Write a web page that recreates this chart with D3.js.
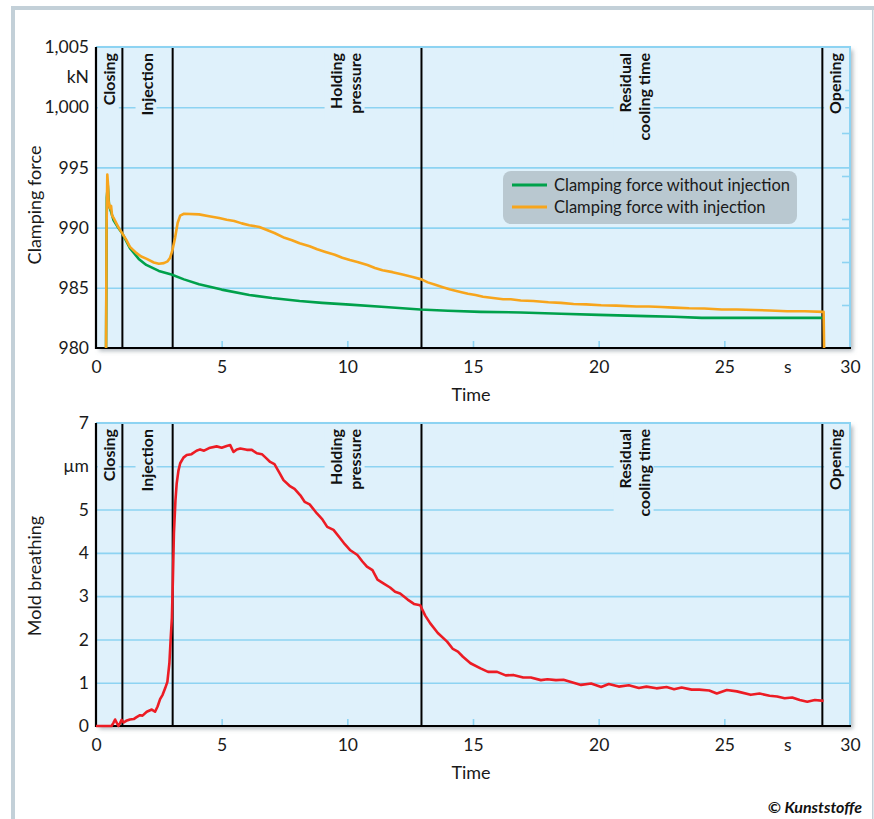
<!DOCTYPE html>
<html>
<head>
<meta charset="utf-8">
<script src="https://cdn.jsdelivr.net/npm/d3@7"></script>
<style>
body { margin: 0; background: #fff; }
svg { display: block; font-family: Lato, "Open Sans", sans-serif; }
</style>
</head>
<body>
<div id="chart"></div>
<script>
// ---- data ----
const timeTicks = [0, 5, 10, 15, 20, 25, 27.5, 30]
const timeMinor = [5, 10, 15, 20, 25]
const forceTicks = [980, 985, 990, 995, 1000, 1002.5, 1005]
const forceGrid = [985, 990, 995, 1000]
const breathTicks = [0, 1, 2, 3, 4, 5, 6, 7]
const breathGrid = [1, 2, 3, 4, 5, 6]
const phaseBounds = [1.05, 3.05, 12.95, 28.9]
const phaseNames = [["Closing"], ["Injection"], ["Holding", "pressure"], ["Residual", "cooling time"], ["Opening"]]
const phaseLabelAt = [0.55, 2.05, 9.95, 21.45, 29.45]
const seriesNames = ["Clamping force without injection", "Clamping force with injection"]

// [time s, clamping force kN]
const forceWithout = [
  [0.40, 980], [0.43, 992.5], [0.47, 993.5], [0.52, 991.8], [0.6, 991.3], [0.7, 990.6],
  [0.85, 990.1], [1.05, 989.5], [1.35, 988.3], [1.7, 987.4], [2.0, 986.9], [2.5, 986.4],
  [3.0, 986.1], [3.5, 985.7], [4.1, 985.3], [5.0, 984.85], [6.1, 984.4], [7.0, 984.15],
  [8.1, 983.9], [9.0, 983.75], [10.1, 983.6], [11.5, 983.4], [12.9, 983.2], [14.0, 983.1],
  [15.3, 983.0], [16.9, 982.95], [18.5, 982.85], [20.0, 982.75], [21.9, 982.65], [23.0, 982.6],
  [24.1, 982.5], [26.0, 982.5], [28.9, 982.5]
]
const forceWith = [
  [0.40, 980], [0.42, 990], [0.45, 994.4], [0.48, 993.5], [0.5, 992.2], [0.55, 991.6],
  [0.6, 991.8], [0.64, 991.0], [0.7, 990.8], [0.8, 990.4], [0.9, 990.0], [1.02, 989.6],
  [1.2, 989.0], [1.35, 988.4], [1.6, 987.9], [1.8, 987.6], [2.02, 987.4], [2.3, 987.1],
  [2.5, 987.0], [2.7, 987.05], [2.85, 987.2], [2.95, 987.5], [3.05, 988.2], [3.15, 989.2],
  [3.25, 990.4], [3.35, 991.0], [3.5, 991.15], [4.1, 991.1], [4.5, 990.95], [4.9, 990.8],
  [5.2, 990.65], [5.5, 990.55], [5.8, 990.35], [6.1, 990.2], [6.5, 990.05], [6.8, 989.8],
  [7.1, 989.55], [7.5, 989.15], [7.8, 988.95], [8.1, 988.7], [8.5, 988.45], [8.8, 988.2],
  [9.1, 988.0], [9.5, 987.75], [9.8, 987.5], [10.1, 987.3], [10.4, 987.15], [10.8, 986.9],
  [11.1, 986.65], [11.4, 986.45], [11.8, 986.3], [12.2, 986.1], [12.6, 985.9], [12.95, 985.7],
  [13.2, 985.45], [13.5, 985.25], [13.8, 985.05], [14.1, 984.85], [14.5, 984.65], [14.8, 984.5],
  [15.1, 984.4], [15.4, 984.25], [15.8, 984.15], [16.2, 984.05], [16.5, 984.05], [16.9, 983.95],
  [17.4, 983.9], [18.0, 983.8], [18.5, 983.75], [19.0, 983.65], [19.5, 983.62], [20.1, 983.55],
  [20.7, 983.52], [21.5, 983.45], [22.0, 983.45], [22.5, 983.4], [23.0, 983.35], [23.6, 983.3],
  [24.2, 983.28], [24.9, 983.2], [25.5, 983.2], [26.2, 983.15], [26.8, 983.12], [27.5, 983.05],
  [28.2, 983.05], [28.95, 983.0], [28.97, 980]
]
// [time s, mold breathing µm]
const moldBreathing = [
  [0, 0], [0.62, 0], [0.7, 0.08], [0.76, 0.15], [0.82, 0.08], [0.89, 0.0], [0.95, 0.06],
  [1.02, 0.14], [1.1, 0.08], [1.2, 0.12], [1.35, 0.15], [1.5, 0.16], [1.6, 0.2], [1.75, 0.25],
  [1.85, 0.24], [2.02, 0.33], [2.22, 0.38], [2.35, 0.33], [2.45, 0.45], [2.55, 0.62], [2.65, 0.72],
  [2.75, 0.87], [2.84, 1.02], [2.92, 1.45], [2.97, 2.0], [3.02, 2.5], [3.06, 3.4], [3.1, 4.45],
  [3.16, 5.2], [3.21, 5.6], [3.28, 5.9], [3.35, 6.07], [3.48, 6.2], [3.61, 6.26], [3.8, 6.28],
  [4.0, 6.36], [4.14, 6.39], [4.3, 6.36], [4.5, 6.42], [4.8, 6.46], [5.0, 6.43], [5.2, 6.47],
  [5.34, 6.49], [5.47, 6.33], [5.6, 6.39], [5.74, 6.41], [6.0, 6.38], [6.2, 6.38], [6.4, 6.3],
  [6.6, 6.28], [6.75, 6.2], [6.93, 6.1], [7.1, 6.05], [7.3, 5.85], [7.46, 5.68], [7.7, 5.55],
  [7.9, 5.48], [8.13, 5.33], [8.3, 5.18], [8.5, 5.12], [8.79, 4.91], [9.0, 4.78], [9.2, 4.6],
  [9.45, 4.53], [9.7, 4.35], [9.9, 4.2], [10.12, 4.06], [10.4, 3.95], [10.6, 3.8], [10.78, 3.68],
  [11.0, 3.6], [11.2, 3.38], [11.45, 3.29], [11.7, 3.2], [11.9, 3.1], [12.1, 3.06], [12.4, 2.92],
  [12.65, 2.82], [12.9, 2.79], [13.1, 2.55], [13.3, 2.37], [13.6, 2.15], [13.97, 1.95], [14.2, 1.78],
  [14.4, 1.72], [14.6, 1.6], [14.9, 1.45], [15.3, 1.33], [15.6, 1.25], [15.96, 1.25], [16.3, 1.17],
  [16.6, 1.18], [17.0, 1.12], [17.3, 1.12], [17.7, 1.06], [17.96, 1.08], [18.3, 1.06], [18.6, 1.07],
  [19.0, 1.0], [19.3, 0.95], [19.7, 0.98], [20.1, 0.9], [20.4, 0.97], [20.8, 0.91], [21.2, 0.94],
  [21.6, 0.88], [21.9, 0.91], [22.3, 0.87], [22.7, 0.9], [23.0, 0.85], [23.3, 0.89], [23.7, 0.84],
  [24.0, 0.84], [24.4, 0.82], [24.7, 0.75], [25.1, 0.83], [25.5, 0.8], [26.05, 0.72], [26.4, 0.75],
  [26.8, 0.7], [27.1, 0.68], [27.4, 0.64], [27.7, 0.66], [28.0, 0.6], [28.3, 0.56], [28.6, 0.6],
  [28.95, 0.58]
]

// ---- drawing ----
const W = 874, H = 819
const left = 96, right = 850
const plotFill = "#dff1fb"
const gridColor = "#8dd3f2"
const frameColor = "#c3d0d8"

const svg = d3.select("#chart").append("svg")
  .attr("width", W)
  .attr("height", H)

const defs = svg.append("defs")
defs.append("filter")
  .attr("id", "shadow")
  .attr("x", "-5%").attr("y", "-5%")
  .attr("width", "115%").attr("height", "115%")
  .append("feDropShadow")
  .attr("dx", 3).attr("dy", 3)
  .attr("stdDeviation", 2)
  .attr("flood-color", "#6f7f88")
  .attr("flood-opacity", 0.55)

// outer frame
svg.append("rect").attr("x", 11).attr("y", 6).attr("width", 4).attr("height", H - 6).attr("fill", frameColor)
svg.append("rect").attr("x", 11).attr("y", 6).attr("width", W - 11).attr("height", 4).attr("fill", frameColor)
svg.append("rect").attr("x", 872).attr("y", 6).attr("width", 1.5).attr("height", H - 6).attr("fill", frameColor)

const x = d3.scaleLinear().domain([0, 30]).range([left, right])

function panel(cfg) {
  const y = d3.scaleLinear().domain(cfg.yDomain).range([cfg.bottom, cfg.top])
  const w = right - left, h = cfg.bottom - cfg.top
  const g = svg.append("g")

  g.append("rect")
    .attr("x", left).attr("y", cfg.top)
    .attr("width", w).attr("height", h)
    .attr("fill", plotFill)
    .attr("filter", "url(#shadow)")

  // horizontal grid
  g.append("g")
    .attr("transform", `translate(${left},0)`)
    .call(d3.axisLeft(y).tickValues(cfg.grid).tickSize(-w).tickFormat(""))
    .call(a => a.select(".domain").remove())
    .selectAll("line").attr("stroke", gridColor).attr("stroke-width", 1.6)

  // small ticks on the time axis
  g.append("g")
    .attr("transform", `translate(0,${cfg.bottom})`)
    .call(d3.axisBottom(x).tickValues(timeMinor).tickSize(-7).tickFormat(""))
    .call(a => a.select(".domain").remove())
    .selectAll("line").attr("stroke", gridColor).attr("stroke-width", 1.6)

  if (cfg.rightTicks) {
    const yr = d3.scaleLinear().domain([0, 7]).range([cfg.bottom, cfg.top])
    g.append("g")
      .attr("transform", `translate(${right},0)`)
      .call(d3.axisRight(yr).tickValues([1, 2, 3, 4, 5, 6]).tickSize(-8).tickFormat(""))
      .call(a => a.select(".domain").remove())
      .selectAll("line").attr("stroke", gridColor).attr("stroke-width", 1.6)
  }

  // phase labels (with a patch of plot colour behind them)
  phaseNames.forEach((lines, i) => {
    const lg = g.append("g")
      .attr("transform", `translate(${x(phaseLabelAt[i])},${cfg.top + 6}) rotate(-90)`)
    const t = lg.append("text")
      .attr("text-anchor", "end")
      .attr("font-size", 16)
      .attr("font-weight", "bold")
      .attr("fill", "#111")
    lines.forEach((s, j) => {
      t.append("tspan")
        .attr("x", 0)
        .attr("y", (j - (lines.length - 1) / 2) * 19 + 5)
        .text(s)
    })
    const bb = t.node().getBBox()
    lg.insert("rect", "text")
      .attr("x", bb.x - 7).attr("y", bb.y - 1)
      .attr("width", bb.width + 8).attr("height", bb.height + 2)
      .attr("fill", plotFill)
  })

  // phase boundaries
  g.selectAll(".phase")
    .data(phaseBounds)
    .enter()
    .append("line")
    .attr("class", "phase")
    .attr("x1", d => x(d)).attr("x2", d => x(d))
    .attr("y1", cfg.top).attr("y2", cfg.bottom)
    .attr("stroke", "#000")
    .attr("stroke-width", 2)

  // top / right border of the plot
  g.append("path")
    .attr("d", `M${left},${cfg.top}H${right}V${cfg.bottom}`)
    .attr("fill", "none")
    .attr("stroke", gridColor)
    .attr("stroke-width", 2)

  // black axes
  g.append("path")
    .attr("d", `M${left},${cfg.top}V${cfg.bottom}H${right + 1}`)
    .attr("fill", "none")
    .attr("stroke", "#000")
    .attr("stroke-width", 2.2)

  // data
  const clipId = "clip" + cfg.top
  defs.append("clipPath").attr("id", clipId)
    .append("rect")
    .attr("x", left).attr("y", cfg.top)
    .attr("width", w).attr("height", h + 2)

  const line = d3.line().x(d => x(d[0])).y(d => y(d[1]))
  cfg.series.forEach(s => {
    g.append("path")
      .datum(s.data)
      .attr("clip-path", `url(#${clipId})`)
      .attr("d", line)
      .attr("fill", "none")
      .attr("stroke", s.color)
      .attr("stroke-width", 2.6)
      .attr("stroke-linejoin", "round")
  })

  // tick labels
  g.append("g")
    .attr("transform", `translate(${left},0)`)
    .call(d3.axisLeft(y).tickValues(cfg.yTicks).tickFormat(cfg.yFormat).tickSize(0).tickPadding(7))
    .call(a => a.select(".domain").remove())
    .selectAll("text")
    .attr("font-family", "Lato, sans-serif")
    .attr("font-size", 17.5)
    .attr("fill", "#1a1a1a")

  g.append("g")
    .attr("transform", `translate(0,${cfg.bottom})`)
    .call(d3.axisBottom(x).tickValues(timeTicks).tickFormat(d => d === 27.5 ? "s" : d).tickSize(0).tickPadding(13))
    .call(a => a.select(".domain").remove())
    .selectAll("text")
    .attr("font-family", "Lato, sans-serif")
    .attr("font-size", 17.5)
    .attr("fill", "#1a1a1a")

  // titles
  g.append("text")
    .attr("x", (left + right) / 2 - 2)
    .attr("y", cfg.bottom + cfg.timeOffset)
    .attr("text-anchor", "middle")
    .attr("font-size", 18)
    .attr("fill", "#1a1a1a")
    .text("Time")

  g.append("text")
    .attr("transform", `translate(41,${cfg.titleY}) rotate(-90)`)
    .attr("text-anchor", "middle")
    .attr("font-size", 18)
    .attr("fill", "#1a1a1a")
    .text(cfg.title)

  return { g, y }
}

const forcePanel = panel({
  top: 47, bottom: 348,
  yDomain: [980, 1005],
  grid: forceGrid,
  yTicks: forceTicks,
  yFormat: d => d === 1002.5 ? "kN" : d3.format(",")(d),
  rightTicks: true,
  title: "Clamping force",
  titleY: 205,
  timeOffset: 53,
  series: [
    { data: forceWithout, color: "#00a14b" },
    { data: forceWith, color: "#f7a51c" }
  ]
})

panel({
  top: 423, bottom: 726,
  yDomain: [0, 7],
  grid: breathGrid,
  yTicks: breathTicks,
  yFormat: d => d === 6 ? "µm" : d,
  rightTicks: false,
  title: "Mold breathing",
  titleY: 576,
  timeOffset: 53,
  series: [
    { data: moldBreathing, color: "#ec1c24" }
  ]
})

// legend
const legend = forcePanel.g.append("g").attr("transform", "translate(503,171)")
legend.append("rect")
  .attr("width", 294).attr("height", 53)
  .attr("rx", 8)
  .attr("fill", "#b9c8d0")
const legendColors = ["#00a14b", "#f7a51c"]
seriesNames.forEach((name, i) => {
  const ly = 14 + i * 22
  legend.append("line")
    .attr("x1", 9).attr("x2", 44)
    .attr("y1", ly).attr("y2", ly)
    .attr("stroke", legendColors[i])
    .attr("stroke-width", 2.8)
  legend.append("text")
    .attr("x", 51).attr("y", ly + 6)
    .attr("font-size", 16.5)
    .attr("fill", "#1a1a1a")
    .text(name)
})

// credit
svg.append("text")
  .attr("x", 862).attr("y", 813)
  .attr("text-anchor", "end")
  .attr("font-size", 16)
  .attr("font-weight", "bold")
  .attr("font-style", "italic")
  .attr("fill", "#111")
  .text("© Kunststoffe")
</script>
</body>
</html>
